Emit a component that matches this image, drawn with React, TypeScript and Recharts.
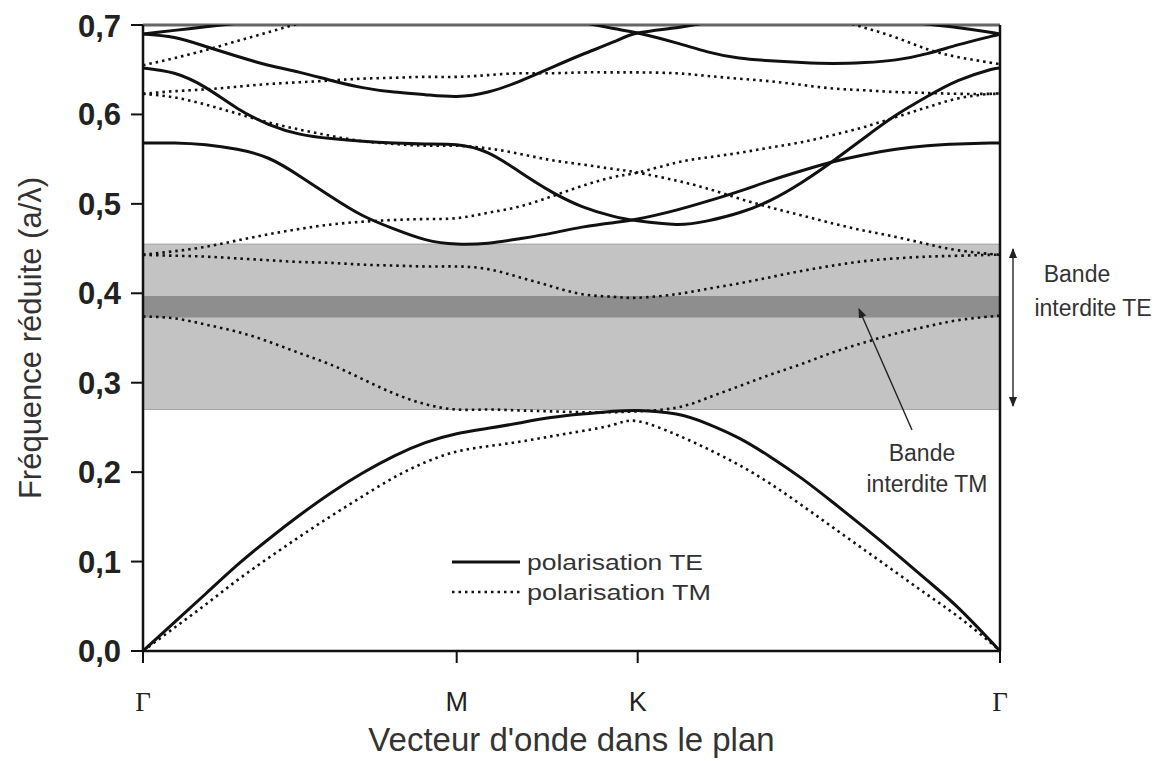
import { LineChart, Line, XAxis, YAxis, ReferenceArea, ReferenceLine } from 'recharts'

// position along the path Γ -> M -> K -> Γ (|ΓM| = 1)
const kPath = [
  0, 0.1, 0.2, 0.3, 0.4, 0.5, 0.6, 0.7, 0.8, 0.9, 1.0,
  1.1, 1.2, 1.3, 1.4, 1.5, 1.577,
  1.7, 1.8, 1.9, 2.0, 2.1, 2.2, 2.3, 2.4, 2.5, 2.6, 2.7, 2.732,
]
const kTicks = [0, 1, 1.577, 2.732]
const kTickLabels = ['Γ', 'M', 'K', 'Γ']
const freqTicks = [0, 0.1, 0.2, 0.3, 0.4, 0.5, 0.6, 0.7]

// band gaps (a/λ)
const gapTE = [0.27, 0.455]
const gapTM = [0.373, 0.397]

// TE bands (solid)
const te1 = [0, 0.032, 0.064, 0.096, 0.125, 0.152, 0.177, 0.199, 0.218, 0.233, 0.243, 0.249, 0.255, 0.261, 0.265, 0.268, 0.269, 0.265, 0.254, 0.238, 0.217, 0.193, 0.166, 0.138, 0.109, 0.079, 0.048, 0.012, 0]
const te2 = [0.568, 0.568, 0.566, 0.561, 0.551, 0.531, 0.508, 0.487, 0.472, 0.46, 0.455, 0.456, 0.461, 0.467, 0.474, 0.479, 0.483, 0.493, 0.503, 0.514, 0.526, 0.537, 0.547, 0.555, 0.561, 0.565, 0.567, 0.568, 0.568]
const te3 = [0.652, 0.646, 0.63, 0.607, 0.589, 0.578, 0.573, 0.57, 0.568, 0.567, 0.566, 0.557, 0.536, 0.514, 0.497, 0.486, 0.481, 0.477, 0.481, 0.49, 0.504, 0.524, 0.548, 0.574, 0.599, 0.62, 0.638, 0.65, 0.652]
const te4 = [0.69, 0.686, 0.676, 0.665, 0.655, 0.647, 0.638, 0.63, 0.625, 0.622, 0.62, 0.625, 0.637, 0.652, 0.667, 0.681, 0.691, 0.697, 0.703, 0.709, null, null, null, null, null, null, null, null, null]
const te5 = [null, null, null, null, null, null, null, null, null, null, null, null, null, 0.709, 0.703, 0.696, 0.691, 0.68, 0.67, 0.663, 0.66, 0.658, 0.657, 0.658, 0.661, 0.668, 0.678, 0.687, 0.69]
const te6 = [0.69, 0.694, 0.698, 0.702, 0.706, null, null, null, null, null, null, null, null, null, null, null, null, null, null, null, null, null, null, null, null, null, null, null, null]
const te7 = [null, null, null, null, null, null, null, null, null, null, null, null, null, null, null, null, null, null, null, null, null, null, null, null, 0.706, 0.701, 0.697, 0.692, 0.69]

// TM bands (dotted)
const tm1 = [0, 0.026, 0.052, 0.079, 0.104, 0.128, 0.151, 0.173, 0.194, 0.211, 0.223, 0.229, 0.234, 0.24, 0.246, 0.253, 0.257, 0.242, 0.226, 0.208, 0.187, 0.163, 0.138, 0.113, 0.088, 0.063, 0.038, 0.01, 0]
const tm2 = [0.374, 0.372, 0.365, 0.357, 0.346, 0.333, 0.32, 0.304, 0.288, 0.276, 0.27, 0.27, 0.269, 0.268, 0.267, 0.267, 0.268, 0.272, 0.283, 0.296, 0.309, 0.321, 0.334, 0.345, 0.355, 0.363, 0.37, 0.374, 0.375]
const tm3 = [0.443, 0.442, 0.441, 0.439, 0.437, 0.435, 0.434, 0.432, 0.431, 0.43, 0.43, 0.427, 0.418, 0.408, 0.399, 0.396, 0.395, 0.399, 0.405, 0.411, 0.418, 0.425, 0.431, 0.436, 0.439, 0.441, 0.442, 0.443, 0.443]
const tm4 = [0.443, 0.447, 0.452, 0.459, 0.466, 0.472, 0.477, 0.48, 0.482, 0.483, 0.484, 0.49, 0.497, 0.508, 0.52, 0.53, 0.535, 0.546, 0.552, 0.557, 0.563, 0.569, 0.577, 0.586, 0.597, 0.608, 0.618, 0.623, 0.623]
const tm5 = [0.623, 0.619, 0.611, 0.601, 0.591, 0.583, 0.576, 0.57, 0.567, 0.565, 0.565, 0.562, 0.556, 0.549, 0.544, 0.539, 0.535, 0.526, 0.517, 0.506, 0.496, 0.487, 0.478, 0.47, 0.463, 0.455, 0.448, 0.444, 0.443]
const tm6 = [0.623, 0.626, 0.628, 0.631, 0.634, 0.636, 0.638, 0.64, 0.641, 0.642, 0.642, 0.644, 0.646, 0.646, 0.647, 0.647, 0.647, 0.646, 0.643, 0.64, 0.637, 0.633, 0.629, 0.627, 0.625, 0.624, 0.623, 0.623, 0.623]
const tm7 = [0.655, 0.663, 0.672, 0.682, 0.692, 0.702, 0.712, null, null, null, null, null, null, null, null, null, null, null, null, null, null, null, null, null, null, null, null, null, null]
const tm8 = [null, null, null, null, null, null, null, null, null, null, null, null, null, null, null, null, null, null, null, null, null, 0.716, 0.707, 0.697, 0.686, 0.673, 0.664, 0.658, 0.656]

const teSeries = [te1, te2, te3, te4, te5, te6, te7]
const tmSeries = [tm1, tm2, tm3, tm4, tm5, tm6, tm7, tm8]

const rows = kPath.map((k, i) => {
  const row: Record<string, number | null> = { k }
  teSeries.forEach((s, j) => (row['te' + j] = s[i]))
  tmSeries.forEach((s, j) => (row['tm' + j] = s[i]))
  return row
})

const W = 1154
const H = 753
const sans = '"Liberation Sans", Arial, sans-serif'

function KTick({ x, y, payload }: any) {
  const label = kTickLabels[kTicks.indexOf(payload.value)]
  const serif = label === 'Γ'
  return (
    <text
      x={x}
      y={y + 46}
      textAnchor="middle"
      fontFamily={serif ? '"Liberation Serif", serif' : sans}
      fontSize={serif ? 27 : 27}
      fill="#222"
    >
      {label}
    </text>
  )
}

function Notes() {
  return (
    <svg width={W} height={H} style={{ position: 'absolute', left: 0, top: 0, pointerEvents: 'none' }}>
      <defs>
        <marker id="head" viewBox="0 0 10 10" refX="9" refY="5" markerWidth="7" markerHeight="9" orient="auto-start-reverse">
          <path d="M0,1 L10,5 L0,9 z" fill="#222" />
        </marker>
      </defs>
      {/* TE gap double arrow */}
      <line x1={1005} y1={241} x2={1005} y2={398} stroke="#333" strokeWidth={1.5} markerStart="url(#head)" markerEnd="url(#head)" />
      <text x={1069} y={274} textAnchor="middle" fontFamily={sans} fontSize={23} fill="#333">Bande</text>
      <text x={1085} y={308} textAnchor="middle" fontFamily={sans} fontSize={23} fill="#333">interdite TE</text>
      {/* TM gap pointer */}
      <line x1={904} y1={422} x2={851} y2={301} stroke="#222" strokeWidth={1.4} markerEnd="url(#head)" />
      <text x={914} y={453} textAnchor="middle" fontFamily={sans} fontSize={23} fill="#333">Bande</text>
      <text x={919} y={484} textAnchor="middle" fontFamily={sans} fontSize={23} fill="#333">interdite TM</text>
      {/* legend */}
      <line x1={444} y1={554} x2={512} y2={554} stroke="#111" strokeWidth={3} />
      <text x={519} y={562} fontFamily={sans} fontSize={22} fill="#333" textLength={176} lengthAdjust="spacingAndGlyphs">polarisation TE</text>
      <line x1={444} y1={584} x2={512} y2={584} stroke="#111" strokeWidth={2.5} strokeDasharray="2.5 4" />
      <text x={519} y={592} fontFamily={sans} fontSize={22} fill="#333" textLength={184} lengthAdjust="spacingAndGlyphs">polarisation TM</text>
    </svg>
  )
}

export default function App() {
  return (
    <div style={{ position: 'relative', width: W, height: H }}>
      <LineChart width={W} height={H} data={rows} margin={{ top: 17, right: 162, bottom: 0, left: 0 }}>
        <ReferenceArea y1={gapTE[0]} y2={gapTE[1]} fill="#c3c3c3" fillOpacity={1} stroke="#a5a5a5" strokeWidth={1} />
        <ReferenceArea y1={gapTM[0]} y2={gapTM[1]} fill="#8e8e8e" fillOpacity={1} />
        <XAxis
          dataKey="k"
          type="number"
          domain={[0, 2.732]}
          ticks={kTicks}
          interval={0}
          height={110}
          tickSize={12}
          tick={<KTick />}
          axisLine={{ stroke: '#111', strokeWidth: 2.5 }}
          tickLine={{ stroke: '#111', strokeWidth: 2 }}
          label={{ value: "Vecteur d'onde dans le plan", position: 'insideBottom', offset: 10, style: { fontSize: 33, fill: '#333', fontFamily: sans } }}
        />
        <YAxis
          type="number"
          domain={[0, 0.7]}
          ticks={freqTicks}
          allowDataOverflow
          width={135}
          tickSize={12}
          tickMargin={10}
          tickFormatter={(v: number) => v.toFixed(1).replace('.', ',')}
          tick={{ fontSize: 31, fontWeight: 'bold', fill: '#222', fontFamily: sans }}
          axisLine={{ stroke: '#111', strokeWidth: 2.5 }}
          tickLine={{ stroke: '#111', strokeWidth: 2 }}
          label={{ value: 'Fréquence réduite (a/λ)', angle: -90, position: 'insideLeft', offset: 22, style: { textAnchor: 'middle', fontSize: 31, fill: '#333', fontFamily: sans } }}
        />
        <ReferenceLine y={0.7} stroke="#666" strokeWidth={3} />
        <ReferenceLine x={2.732} stroke="#111" strokeWidth={2.5} />
        {tmSeries.map((_, j) => (
          <Line
            key={'tm' + j}
            dataKey={'tm' + j}
            type="natural"
            stroke="#111"
            strokeWidth={2.6}
            strokeDasharray="2.5 4"
            dot={false}
            activeDot={false}
            connectNulls={false}
            isAnimationActive={false}
          />
        ))}
        {teSeries.map((_, j) => (
          <Line
            key={'te' + j}
            dataKey={'te' + j}
            type="natural"
            stroke="#111"
            strokeWidth={3}
            dot={false}
            activeDot={false}
            connectNulls={false}
            isAnimationActive={false}
          />
        ))}
      </LineChart>
      <Notes />
    </div>
  )
}
